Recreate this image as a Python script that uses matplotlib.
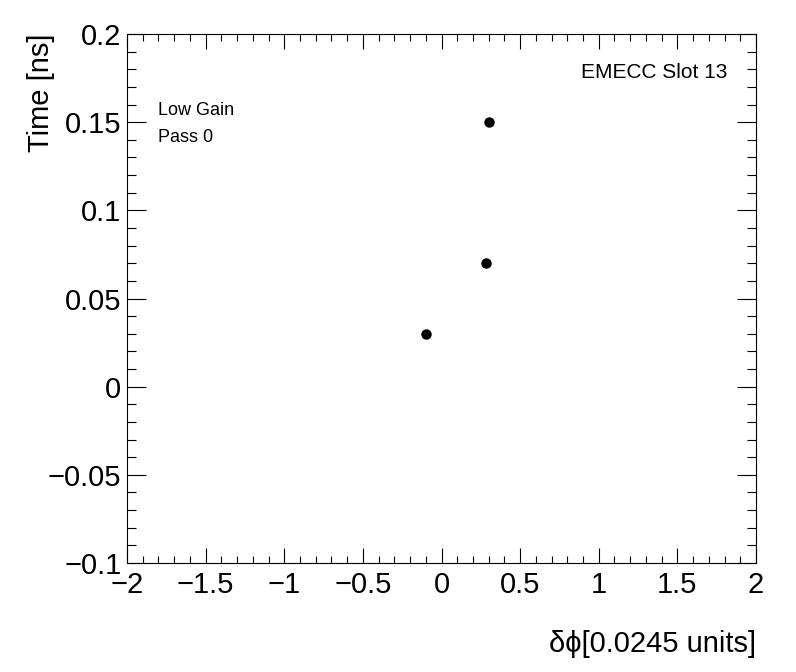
import matplotlib
matplotlib.use("Agg")
import matplotlib.pyplot as plt
from matplotlib.ticker import MultipleLocator

plt.rcParams["font.family"] = ["Liberation Sans", "DejaVu Sans"]

# data
dphi = [-0.1, 0.285, 0.30]
time_ns = [0.03, 0.07, 0.15]

fig = plt.figure(figsize=(7.96, 6.72), dpi=100)
ax = fig.add_axes([127 / 796, 1 - 563 / 672, (756 - 127) / 796, (563 - 34) / 672])

ax.plot(dphi, time_ns, "o", color="black", markersize=6.5, linestyle="none")

ax.set_xlim(-2, 2)
ax.set_ylim(-0.1, 0.2)
ax.xaxis.set_major_locator(MultipleLocator(0.5))
ax.xaxis.set_minor_locator(MultipleLocator(0.1))
ax.yaxis.set_major_locator(MultipleLocator(0.05))
ax.yaxis.set_minor_locator(MultipleLocator(0.01))

ax.xaxis.set_major_formatter(plt.FuncFormatter(lambda v, p: f"{v:g}".replace("-", "\u2212")))
ax.yaxis.set_major_formatter(plt.FuncFormatter(lambda v, p: f"{round(v, 3):g}".replace("-", "\u2212")))

ax.tick_params(axis="x", which="major", direction="in", length=11, width=0.8,
               top=True, bottom=True, labelsize=21, pad=6)
ax.tick_params(axis="x", which="minor", direction="in", length=5.3, width=0.8,
               top=True, bottom=True)
ax.tick_params(axis="y", which="major", direction="in", length=14, width=0.8,
               left=True, right=True, labelsize=21, pad=4)
ax.tick_params(axis="y", which="minor", direction="in", length=6.2, width=0.8,
               left=True, right=True)
for s in ax.spines.values():
    s.set_linewidth(0.8)

ax.set_xlabel("\u03b4\u03d5[0.0245 units]", fontsize=21, loc="right", labelpad=22)
ax.set_ylabel("Time [ns]", fontsize=21, loc="top", labelpad=-5)

ax.text(0.05, 0.855, "Low Gain", transform=ax.transAxes, fontsize=13, va="center")
ax.text(0.05, 0.804, "Pass 0", transform=ax.transAxes, fontsize=13, va="center")
ax.text(0.955, 0.927, "EMECC Slot 13", transform=ax.transAxes, fontsize=15,
        va="center", ha="right")

fig.savefig("out.png", dpi=100)
